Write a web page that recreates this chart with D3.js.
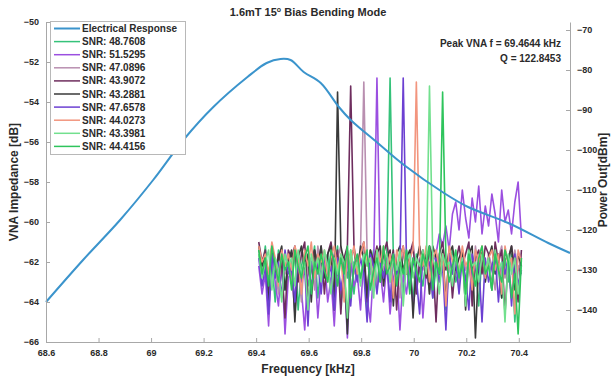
<!DOCTYPE html>
<html><head><meta charset="utf-8">
<script src="https://cdn.jsdelivr.net/npm/d3@7"></script>
<style>body{margin:0;background:#fff}svg{display:block;font-family:"Liberation Sans",Arial,sans-serif}</style>
</head><body><svg id="c" width="615" height="379"></svg>
<script>
// ---- data ----
const xTicks = [68.6, 68.8, 69.0, 69.2, 69.4, 69.6, 69.8, 70.0, 70.2, 70.4];
const xTickLabels = ["68.6","68.8","69","69.2","69.4","69.6","69.8","70","70.2","70.4"];
const yLeftTicks = [-66,-64,-62,-60,-58,-56,-54,-52,-50];
const yRightTicks = [-140,-130,-120,-110,-100,-90,-80,-70];

const vnaFreq = [68.6,68.741,68.882,69.008,69.123,69.237,69.367,69.44,69.493,69.531,69.581,69.646,69.715,69.760,69.863,69.963,70.115,70.207,70.360,70.512,70.595];
const vnaDb   = [-64.0,-61.9,-59.9,-57.9,-55.9,-54.25,-52.75,-52.05,-51.85,-51.9,-52.5,-53.05,-54.25,-54.9,-56.05,-57.15,-58.55,-59.25,-60.05,-61.05,-61.55];

const spectrumStart = 69.41, spectrumStep = 0.0125;
const seriesNames = ["SNR: 48.7608","SNR: 51.5295","SNR: 47.0896","SNR: 43.9072","SNR: 43.2881","SNR: 47.6578","SNR: 44.0273","SNR: 43.3981","SNR: 44.4156"];
const seriesColors = ["#35c27a","#9b4fe0","#b98fb0","#6e2d5e","#3a3a3a","#6c40d2","#f2957e","#72e08e","#2ec45c"];

const s1 = [-126,-131,-124,-133,-128,-138,-125,-130,-135,-127,
-132,-125,-140,-129,-126,-134,-130,-124,-137,-128,
-131,-126,-135,-129,-124,-139,-127,-132,-125,-136,
-128,-133,-126,-141,-129,-125,-134,-127,-131,-126,
-82,
-127,-133,-129,-136,-125,-131,-138,-126,-130,
-134,-127,-124,-137,-129,-132,-126,-140,-128,-125,
-133,-130,-127,-136,-124,-131,-129,-139,-126,-132,
-128,-135,-125,-130,-137,-127,-133,-126,-143,-129,-131];
const s2 = [-129,-136,-131,-144,-127,-133,-139,-128,-146,-132,
-130,-141,-127,-135,-145,-129,-134,-128,-142,-131,
-127,-138,-132,-144,-129,-136,-130,-147,-128,-134,
-131,-140,-127,-137,-143,-129,
-82,
-130,-138,-128,
-141,-132,-129,-145,-131,-136,-128,-139,-133,-127,
-142,-130,-135,-128,-126,-121,-124,-119,-125,-116,
-113,-120,-110,-117,-122,-112,-118,-109,-121,-114,
-119,-111,-116,-123,-110,-118,-115,-121,-113,-108,-122];
const s3 = [-125,-130,-127,-134,-124,-129,-136,-126,-131,-128,
-133,-126,-129,-138,-125,-131,-127,-135,-124,-130,
-128,-132,-126,-139,-127,-124,-133,-129,-126,-131,
-128,-125,
-83,
-126,-131,-128,-135,-125,-130,-127,
-133,-126,-129,-137,-125,-131,-128,-124,-134,-127,
-130,-126,-136,-128,-125,-132,-129,-138,-126,-131,
-127,-134,-125,-130,-128,-136,-124,-131,-127,-133,
-126,-129,-135,-127,-124,-132,-128,-137,-125,-130,-127];
const s4 = [-123,-128,-125,-137,-124,-131,-126,-129,-142,-125,
-127,-124,-133,-126,-123,-139,-128,-125,-130,-124,
-136,-126,-123,-129,-125,-141,-127,-124,
-84,
-124,-130,-126,-123,-138,-125,-128,-124,-133,-126,-123,
-129,-125,-140,-127,-124,-131,-126,-123,-136,-128,
-125,-132,-124,-127,-143,-126,-123,-130,-125,-137,
-128,-124,-129,-126,-123,-139,-127,-125,-131,-124,
-126,-135,-123,-128,-125,-141,-127,-124,-130,-138,-125];
const s5 = [-124,-129,-126,-139,-125,-131,-127,-124,-135,-128,
-125,-143,-127,-124,-130,-126,-138,-125,-129,-124,
-132,-126,-124,-140,
-85.5,
-124,-128,-146,-126,-125,
-131,-124,-127,-137,-125,-129,-126,-124,-134,-127,
-125,-139,-126,-124,-130,-127,-125,-142,-128,-124,
-129,-126,-136,-124,-127,-131,-125,-138,-126,-124,
-130,-127,-125,-140,-126,-124,-147,-128,-125,-133,
-127,-124,-131,-126,-137,-125,-128,-124,-135,-126,-129];
const s6 = [-127,-134,-129,-141,-126,-132,-128,-137,-125,-131,
-129,-138,-126,-133,-130,-144,-127,-131,-128,-136,
-126,-132,-129,-140,-127,-135,-130,-126,-139,-128,
-133,-127,-131,-143,-126,-129,-136,-128,-132,-127,
-138,-126,-131,-129,
-82,
-128,-135,-127,-132,-141,
-126,-130,-128,-137,-127,-133,-129,-145,-126,-131,
-128,-136,-127,-132,-140,-126,-130,-128,-143,-127,
-133,-129,-126,-138,-128,-131,-127,-139,-126,-134,-130];
const s7 = [-124,-128,-126,-131,-123,-127,-134,-125,-129,-126,
-130,-124,-127,-136,-125,-129,-123,-132,-126,-128,
-125,-133,-127,-124,-130,-126,-138,-125,-128,-124,
-131,-126,-123,-129,-127,-134,-125,-128,-124,-130,
-126,-137,-125,-128,-124,-131,-127,-125,
-83,
-126,
-129,-124,-133,-127,-125,-130,-126,-139,-124,-128,
-126,-131,-124,-129,-127,-135,-125,-128,-124,-132,
-127,-125,-130,-126,-136,-124,-129,-127,-141,-125,-128];
const s8 = [-126,-132,-128,-125,-135,-127,-130,-138,-126,-129,
-127,-134,-125,-131,-128,-140,-126,-130,-127,-133,
-125,-129,-136,-127,-131,-126,-128,-142,-125,-130,
-128,-134,-126,-129,-127,-137,-125,-131,-128,-126,
-133,-127,-130,-125,-139,-128,-126,-132,-127,-129,
-125,-131,
-84,
-127,-130,-136,-126,-129,-128,-134,
-126,-131,-127,-139,-125,-129,-128,-133,-126,-130,
-127,-135,-125,-130,-128,-143,-126,-131,-127,-136,-129];
const s9 = [-125,-131,-127,-134,-124,-129,-133,-126,-130,-128,
-135,-125,-129,-132,-127,-124,-136,-128,-131,-126,
-130,-133,-125,-128,-134,-127,-131,-124,-137,-129,
-126,-132,-128,-125,-135,-130,-127,-133,-124,-131,
-129,-126,-134,-128,-131,-125,-136,-127,-130,-133,
-126,-129,-124,-135,-128,-131,
-85.5,
-127,-133,-129,
-125,-132,-128,-136,-126,-130,-134,-127,-124,-131,
-129,-135,-126,-130,-133,-125,-128,-137,-131,-146,-127];
const seriesValues = [s1,s2,s3,s4,s5,s6,s7,s8,s9];

// ---- chart ----
const svg = d3.select("#c");
const L = 46, R = 570, T = 22, B = 342;
const x = d3.scaleLinear([68.6, 70.595], [L, R]);
const yL = d3.scaleLinear([-66, -50], [B, T]);
const yR = d3.scaleLinear([-148, -68], [B, T]);
const axisColor = "#a8a8a8", textColor = "#2a2a2a";

// spectra
const lineR = d3.line().x(d => x(d[0])).y(d => yR(d[1]));
seriesValues.forEach((vals, i) => {
  const pts = vals.map((v, k) => [spectrumStart + k * spectrumStep, v]);
  svg.append("path").attr("d", lineR(pts)).attr("fill", "none")
    .attr("stroke", seriesColors[i]).attr("stroke-width", 1.6).attr("stroke-linejoin", "round");
});

// electrical response
const lineL = d3.line().x((d, i) => x(vnaFreq[i])).y(d => yL(d)).curve(d3.curveCatmullRom);
svg.append("path").attr("d", lineL(vnaDb)).attr("fill", "none")
  .attr("stroke", "#3b94cc").attr("stroke-width", 2);

// axes
function styleAxis(g) {
  g.select(".domain").attr("stroke", axisColor);
  g.selectAll(".tick line").attr("stroke", axisColor);
  g.selectAll(".tick text").attr("fill", textColor).attr("font-size", 9).attr("font-weight", "bold")
    .attr("font-family", "Liberation Sans, Arial, sans-serif");
}
svg.append("g").attr("transform", `translate(0,${B})`)
  .call(d3.axisBottom(x).tickValues(xTicks).tickFormat((d, i) => xTickLabels[i]).tickSizeInner(-4).tickSizeOuter(0).tickPadding(8))
  .call(styleAxis);
svg.append("g").attr("transform", `translate(${L},0)`)
  .call(d3.axisLeft(yL).tickValues(yLeftTicks).tickSizeInner(-4).tickSizeOuter(0).tickPadding(7))
  .call(styleAxis);
svg.append("g").attr("transform", `translate(${R},0)`)
  .call(d3.axisRight(yR).tickValues(yRightTicks).tickSizeInner(-4).tickSizeOuter(0).tickPadding(7))
  .call(styleAxis);

// title
const title = svg.append("text").attr("x", 308).attr("y", 16).attr("text-anchor", "middle")
  .attr("font-size", 11).attr("font-weight", "bold").attr("fill", textColor);
title.append("tspan").text("1.6mT 15");
title.append("tspan").attr("font-size", 7).attr("dy", -4).text("o");
title.append("tspan").attr("dy", 4).text(" Bias Bending Mode");

// axis labels
svg.append("text").attr("x", 308).attr("y", 373).attr("text-anchor", "middle")
  .attr("font-size", 12).attr("font-weight", "bold").attr("fill", textColor).text("Frequency [kHz]");
svg.append("text").attr("transform", "translate(18,182) rotate(-90)").attr("text-anchor", "middle")
  .attr("font-size", 12).attr("font-weight", "bold").attr("fill", textColor).text("VNA Impedance [dB]");
svg.append("text").attr("transform", "translate(607,180) rotate(-90)").attr("text-anchor", "middle")
  .attr("font-size", 12).attr("font-weight", "bold").attr("fill", textColor).text("Power Out[dBm]");

// annotation
svg.append("text").attr("x", 561).attr("y", 47).attr("text-anchor", "end")
  .attr("font-size", 10).attr("font-weight", "bold").attr("fill", textColor).text("Peak VNA f = 69.4644 kHz");
svg.append("text").attr("x", 561).attr("y", 62).attr("text-anchor", "end")
  .attr("font-size", 10).attr("font-weight", "bold").attr("fill", textColor).text("Q = 122.8453");

// legend
const legNames = ["Electrical Response"].concat(seriesNames);
const legColors = ["#3b94cc"].concat(seriesColors);
const leg = svg.append("g");
leg.append("rect").attr("x", 50.5).attr("y", 21.5).attr("width", 135).attr("height", 133)
  .attr("fill", "#fff").attr("stroke", "#b8b8b8");
legNames.forEach((n, i) => {
  const yy = 28.5 + i * 13.1;
  leg.append("line").attr("x1", 54).attr("x2", 80).attr("y1", yy).attr("y2", yy)
    .attr("stroke", legColors[i]).attr("stroke-width", i === 0 ? 2 : 1.5);
  leg.append("text").attr("x", 82).attr("y", yy + 3.5).attr("font-size", 10).attr("font-weight", "bold")
    .attr("fill", textColor).text(n);
});
</script></body></html>
